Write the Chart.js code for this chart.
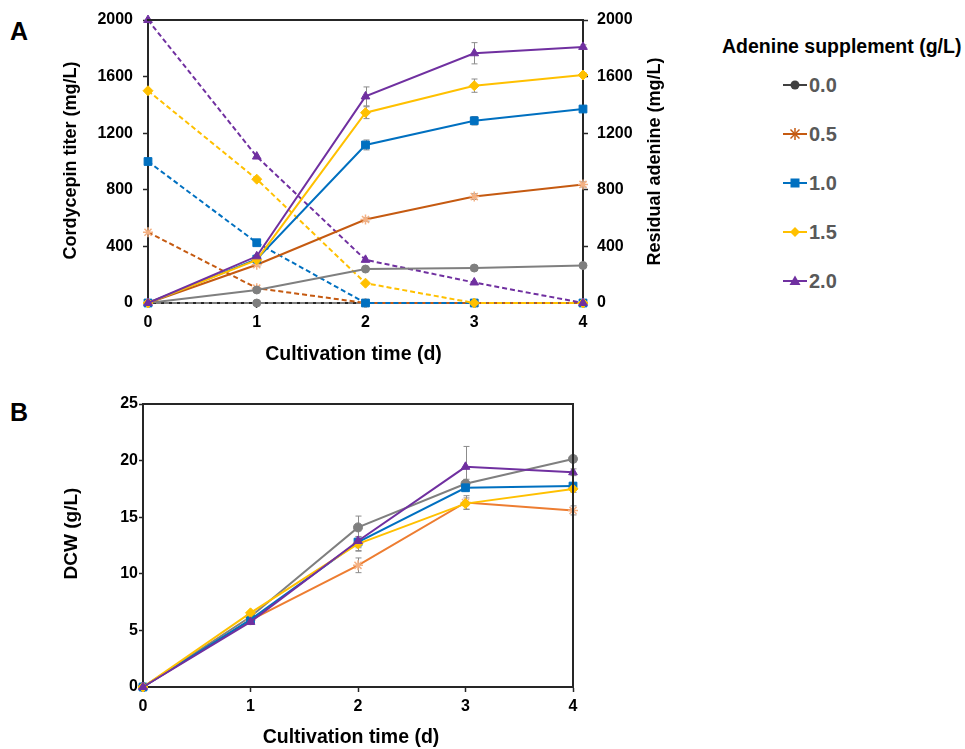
<!DOCTYPE html>
<html>
<head>
<meta charset="utf-8">
<script src="https://cdn.jsdelivr.net/npm/chart.js@4.4.1/dist/chart.umd.min.js"></script>
<style>
html,body{margin:0;padding:0;background:#fff;width:965px;height:749px;overflow:hidden;font-family:'Liberation Sans',Arial,sans-serif;}
#cA{position:absolute;left:0;top:0;}
#cB{position:absolute;left:0;top:370px;}
.letter{position:absolute;font-weight:bold;font-size:25px;line-height:30px;color:#000;}
#legTitle{position:absolute;left:722px;top:34px;font-weight:bold;font-size:19.5px;line-height:24px;color:#000;white-space:nowrap;}
.legRow{position:absolute;left:783px;height:24px;white-space:nowrap;}
.legRow svg{position:absolute;left:0;top:4px;}
.legRow span{position:absolute;left:26px;top:0;font-weight:bold;font-size:20px;line-height:24px;color:#595959;}
</style>
</head>
<body>
<div class="letter" style="left:10px;top:16px;">A</div>
<div class="letter" style="left:10px;top:397px;">B</div>
<canvas id="cA" width="680" height="370"></canvas>
<canvas id="cB" width="680" height="379"></canvas>
<div id="legend"></div>
<script>
// ---------- data ----------
const days = ['0', '1', '2', '3', '4'];
const supplements = ['0.0', '0.5', '1.0', '1.5', '2.0'];
const titerTicks = [0, 400, 800, 1200, 1600, 2000];
const dcwTicks = [0, 5, 10, 15, 20, 25];

// Cordycepin titer (mg/L), solid lines
const titer00 = [0, 92, 240, 247, 265];
const titer05 = [0, 270, 590, 752, 838];
const titer10 = [0, 310, 1117, 1288, 1371];
const titer15 = [0, 305, 1345, 1536, 1611];
const titer20 = [0, 330, 1460, 1765, 1810];
const titerErr00 = [0, 6, 8, 8, 10];
const titerErr05 = [0, 10, 12, 20, 18];
const titerErr10 = [0, 10, 35, 30, 15];
const titerErr15 = [0, 12, 42, 47, 15];
const titerErr20 = [0, 12, 67, 75, 15];

// Residual adenine (mg/L), dashed lines
const adenine00 = [0, 0, 0, 0, 0];
const adenine05 = [500, 105, 0, 0, 0];
const adenine10 = [1000, 426, 0, 0, 0];
const adenine15 = [1500, 875, 140, 0, 0];
const adenine20 = [2000, 1035, 305, 145, 0];

// DCW (g/L)
const dcw00 = [0, 6.2, 14.1, 17.95, 20.15];
const dcw05 = [0, 5.9, 10.75, 16.3, 15.6];
const dcw10 = [0, 5.95, 12.8, 17.6, 17.75];
const dcw15 = [0, 6.55, 12.65, 16.2, 17.5];
const dcw20 = [0, 5.75, 12.9, 19.45, 18.97];
const dcwErr00 = [0, 0.3, 1.0, 0.4, 0.3];
const dcwErr05 = [0, 0.2, 0.65, 0.6, 0.4];
const dcwErr10 = [0, 0.2, 0.5, 0.3, 0.2];
const dcwErr15 = [0, 0.2, 0.6, 0.5, 0.3];
const dcwErr20 = [0, 0.2, 0.9, 1.8, 0.3];

// ---------- styles ----------
const FONT = "'Liberation Sans', Arial, sans-serif";
const AXIS = '#262626';
const C = {
  gray: '#7f7f7f', orangeA: '#c55a11', orangeB: '#ed7d31', star: '#f4b183',
  blue: '#0070c0', yellow: '#ffc000', purple: '#7030a0'
};

// ---------- plugins ----------
const errorBars = {
  id: 'errorBars',
  beforeDatasetsDraw(chart) {
    const ctx = chart.ctx;
    chart.data.datasets.forEach((ds, i) => {
      if (!ds.errors) return;
      const meta = chart.getDatasetMeta(i);
      const ys = chart.scales[meta.yAxisID];
      ctx.save();
      ctx.strokeStyle = '#8c8c8c';
      ctx.lineWidth = 1;
      meta.data.forEach((pt, j) => {
        const e = ds.errors[j];
        if (!e) return;
        const v = ds.data[j];
        const y1 = ys.getPixelForValue(v + e), y2 = ys.getPixelForValue(v - e);
        const x = Math.round(pt.x) + 0.5;
        ctx.beginPath();
        ctx.moveTo(x, y1); ctx.lineTo(x, y2);
        ctx.moveTo(x - 3, y1); ctx.lineTo(x + 3, y1);
        ctx.moveTo(x - 3, y2); ctx.lineTo(x + 3, y2);
        ctx.stroke();
      });
      ctx.restore();
    });
  }
};
// frame (top / right border) and axis titles placed relative to the chart area
const frame = {
  id: 'frame',
  afterDraw(chart, args, opts) {
    const { left, right, top, bottom } = chart.chartArea;
    const ctx = chart.ctx;
    ctx.save();
    ctx.strokeStyle = AXIS;
    ctx.lineWidth = 2;
    ctx.beginPath();
    ctx.moveTo(left - 1, top); ctx.lineTo(right + 1, top);
    if (opts.right) { ctx.moveTo(right, top); ctx.lineTo(right, bottom + 1); }
    ctx.stroke();
    (opts.titles || []).forEach(t => {
      ctx.save();
      ctx.fillStyle = '#000';
      ctx.font = 'bold ' + t.size + 'px ' + FONT;
      ctx.textAlign = 'center';
      ctx.textBaseline = 'middle';
      let x, y;
      if (t.side === 'bottom') { x = (left + right) / 2 + t.dx; y = bottom + t.dy; }
      else if (t.side === 'left') { x = left - t.dx; y = (top + bottom) / 2 + t.dy; }
      else { x = right + t.dx; y = (top + bottom) / 2 + t.dy; }
      ctx.translate(x, y);
      if (t.side !== 'bottom') ctx.rotate(-Math.PI / 2);
      ctx.fillText(t.text, 0, 0);
      ctx.restore();
    });
    ctx.restore();
  }
};

function tickFont() { return { family: FONT, size: 16, weight: 'bold' }; }
function fixedTicks(arr) { return (s) => { s.ticks = arr.map(v => ({ value: v })); }; }

function xScale(height) {
  return {
    type: 'category', offset: false,
    grid: { display: true, drawOnChartArea: false, drawTicks: true, tickLength: 5, color: AXIS, tickWidth: 1.5 },
    border: { display: true, color: AXIS, width: 2 },
    ticks: { color: '#000', font: tickFont(), padding: 5, autoSkip: false, maxRotation: 0 },
    afterFit(s) { s.height = height; }
  };
}
function yScale(pos, width, ticksArr, max, pad, tickLen) {
  return {
    type: 'linear', position: pos, min: 0, max: max,
    afterBuildTicks: fixedTicks(ticksArr),
    grid: { display: true, drawOnChartArea: false, drawTicks: true, tickLength: tickLen, color: AXIS, tickWidth: 1.5 },
    border: { display: true, color: AXIS, width: 2 },
    ticks: { color: '#000', font: tickFont(), padding: pad, callback: v => String(v) },
    afterFit(s) { s.width = width; }
  };
}

function solid(label, data, errs, color, style, radius, axis, ptColor) {
  return {
    label, data, errors: errs, yAxisID: axis,
    borderColor: color, borderWidth: 2, tension: 0, clip: false,
    pointStyle: style, pointRadius: radius,
    pointBackgroundColor: ptColor || color, pointBorderColor: ptColor || color, pointBorderWidth: style === 'star' ? 1.5 : 1
  };
}
function dashed(label, data, color, style, radius, ptColor) {
  const d = solid(label, data, null, color, style, radius, 'y2', ptColor);
  d.borderDash = [5, 3];
  return d;
}

// ---------- chart A ----------
new Chart(document.getElementById('cA'), {
  type: 'line',
  data: {
    labels: days,
    datasets: [
      solid(supplements[4], titer20, titerErr20, C.purple, 'triangle', 5, 'y'),
      solid(supplements[3], titer15, titerErr15, C.yellow, 'rectRot', 5, 'y'),
      solid(supplements[2], titer10, titerErr10, C.blue, 'rect', 5.5, 'y'),
      solid(supplements[1], titer05, titerErr05, C.orangeA, 'star', 5, 'y', C.star),
      solid(supplements[0], titer00, titerErr00, C.gray, 'circle', 4, 'y'),
      dashed(supplements[4], adenine20, C.purple, 'triangle', 5),
      dashed(supplements[3], adenine15, C.yellow, 'rectRot', 5),
      dashed(supplements[2], adenine10, C.blue, 'rect', 5.5),
      dashed(supplements[1], adenine05, C.orangeA, 'star', 5, C.star),
      dashed(supplements[0], adenine00, C.gray, 'circle', 4)
    ]
  },
  options: {
    responsive: false, animation: false,
    layout: { padding: { left: 0, right: 0, top: 20, bottom: 0 } },
    plugins: {
      legend: { display: false }, tooltip: { enabled: false },
      frame: {
        right: false,
        titles: [
          { text: 'Cultivation time (d)', side: 'bottom', dx: -12, dy: 52, size: 19.5 },
          { text: 'Cordycepin titer (mg/L)', side: 'left', dx: 77, dy: -1, size: 18 },
          { text: 'Residual adenine (mg/L)', side: 'right', dx: 72, dy: 0, size: 18 }
        ]
      }
    },
    scales: {
      x: xScale(67),
      y: yScale('left', 148, titerTicks, 2000, 10, 5),
      y2: yScale('right', 97, titerTicks, 2000, 9, 5)
    }
  },
  plugins: [errorBars, frame]
});

// ---------- chart B ----------
new Chart(document.getElementById('cB'), {
  type: 'line',
  data: {
    labels: days,
    datasets: [
      solid(supplements[4], dcw20, dcwErr20, C.purple, 'triangle', 5, 'y'),
      solid(supplements[3], dcw15, dcwErr15, C.yellow, 'rectRot', 5, 'y'),
      solid(supplements[2], dcw10, dcwErr10, C.blue, 'rect', 5.5, 'y'),
      solid(supplements[1], dcw05, dcwErr05, C.orangeB, 'star', 5, 'y', C.star),
      solid(supplements[0], dcw00, dcwErr00, C.gray, 'circle', 4.5, 'y')
    ]
  },
  options: {
    responsive: false, animation: false,
    layout: { padding: { left: 0, right: 107, top: 34, bottom: 0 } },
    plugins: {
      legend: { display: false }, tooltip: { enabled: false },
      frame: {
        right: true,
        titles: [
          { text: 'Cultivation time (d)', side: 'bottom', dx: -7, dy: 50.5, size: 19.5 },
          { text: 'DCW (g/L)', side: 'left', dx: 71, dy: -12, size: 19 }
        ]
      }
    },
    scales: {
      x: xScale(62),
      y: yScale('left', 143, dcwTicks, 25, 1, 4)
    }
  },
  plugins: [errorBars, frame]
});

// ---------- legend (HTML) ----------
const legendColors = ['#404040', C.orangeA, C.blue, C.yellow, C.purple];
const legendMarkers = ['circle', 'star', 'rect', 'rectRot', 'triangle'];
const legendY = [85, 134, 183, 232, 281];
function markerSvg(kind, color) {
  const line = `<line x1="0" y1="8" x2="24" y2="8" stroke="${color}" stroke-width="2"/>`;
  let m = '';
  if (kind === 'circle') m = `<circle cx="12" cy="8" r="4.5" fill="${color}"/>`;
  if (kind === 'rect') m = `<rect x="7.5" y="3.5" width="9" height="9" fill="${color}"/>`;
  if (kind === 'rectRot') m = `<polygon points="12,3 17,8 12,13 7,8" fill="${color}"/>`;
  if (kind === 'triangle') m = `<polygon points="12,2.5 17.5,12 6.5,12" fill="${color}"/>`;
  if (kind === 'star') m = `<g stroke="${color}" stroke-width="1.5"><line x1="12" y1="2" x2="12" y2="14"/><line x1="7.5" y1="3.5" x2="16.5" y2="12.5"/><line x1="16.5" y1="3.5" x2="7.5" y2="12.5"/></g>`;
  return `<svg width="24" height="16" viewBox="0 0 24 16">${line}${m}</svg>`;
}
const leg = document.getElementById('legend');
let html = `<div id="legTitle">Adenine supplement (g/L)</div>`;
supplements.forEach((s, i) => {
  html += `<div class="legRow" style="top:${legendY[i] - 12}px">${markerSvg(legendMarkers[i], legendColors[i])}<span>${s}</span></div>`;
});
leg.innerHTML = html;
</script>
</body>
</html>
